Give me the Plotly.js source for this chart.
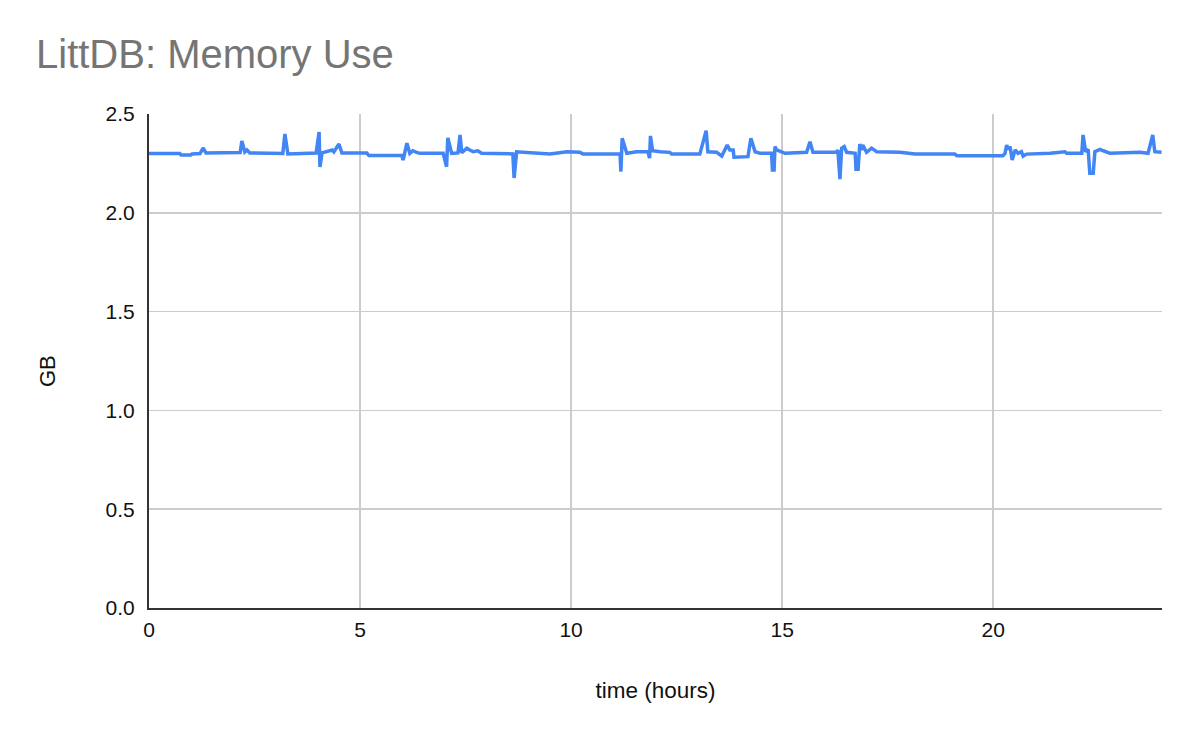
<!DOCTYPE html>
<html>
<head>
<meta charset="utf-8">
<script src="https://cdn.plot.ly/plotly-3.0.1.min.js"></script>
<style>html,body{margin:0;padding:0;background:#fff;}#chart{width:1200px;height:742px;}</style>
</head>
<body>
<div id="chart"></div>
<script>
const hours = [0,0.73,0.76,0.99,1.02,1.21,1.28,1.35,2.16,2.20,2.27,2.32,2.39,3.17,3.22,3.29,3.96,4.03,4.05,4.10,4.34,4.38,4.50,4.57,5.16,5.21,5.71,
5.99,6.02,6.11,6.18,6.25,6.34,6.42,6.97,7.05,7.08,7.17,7.32,7.37,7.41,7.53,7.60,7.68,7.79,7.88,8.62,8.65,8.71,9.03,9.50,9.90,10.21,10.28,10.84,
11.16,11.18,11.21,11.32,11.55,11.82,11.86,11.88,11.93,12.11,12.34,12.38,13.05,13.20,13.24,13.45,13.57,13.70,13.76,13.84,13.86,14.19,14.26,14.36,14.48,
14.75,14.77,14.81,14.83,14.87,15.07,15.58,15.66,15.73,16.29,16.32,16.37,16.41,16.47,16.53,16.73,16.75,16.80,16.84,16.88,16.91,17.00,17.12,17.24,17.79,
18.07,18.15,19.09,19.14,20.23,20.28,20.32,20.36,20.40,20.45,20.52,20.59,20.67,20.71,20.79,21.35,21.70,21.74,22.10,22.13,22.19,22.25,22.29,22.37,22.41,
22.53,22.61,22.77,23.48,23.67,23.78,23.83,23.99];
const memoryGB = [2.300,2.300,2.293,2.293,2.298,2.300,2.328,2.303,2.305,2.363,2.308,2.318,2.303,2.300,2.399,2.298,2.303,2.409,2.232,2.303,2.318,2.308,2.348,2.303,2.303,2.290,2.290,
2.290,2.267,2.352,2.301,2.314,2.306,2.301,2.301,2.233,2.379,2.301,2.303,2.394,2.304,2.327,2.318,2.309,2.314,2.301,2.298,2.176,2.309,2.306,2.298,2.309,2.306,2.297,2.297,
2.297,2.208,2.377,2.301,2.309,2.309,2.277,2.389,2.314,2.309,2.306,2.297,2.297,2.416,2.309,2.306,2.287,2.343,2.318,2.318,2.281,2.284,2.377,2.309,2.301,
2.301,2.217,2.217,2.335,2.318,2.301,2.306,2.360,2.306,2.306,2.318,2.170,2.327,2.335,2.306,2.301,2.220,2.220,2.348,2.318,2.343,2.306,2.327,2.309,2.306,
2.301,2.297,2.297,2.289,2.289,2.301,2.343,2.321,2.335,2.267,2.318,2.301,2.309,2.287,2.297,2.301,2.309,2.301,2.301,2.394,2.309,2.321,2.200,2.200,2.309,
2.321,2.314,2.301,2.306,2.301,2.394,2.309,2.306];
const xTicks = [0,5,10,15,20];
const yTicks = [0,0.5,1.0,1.5,2.0,2.5];

const trace = {
  x: hours, y: memoryGB, type: 'scatter', mode: 'lines',
  line: {color: '#4285F4', width: 3.5}, hoverinfo: 'x+y'
};
const layout = {
  width: 1200, height: 742,
  margin: {l: 149, r: 38, t: 114, b: 134},
  paper_bgcolor: '#fff', plot_bgcolor: '#fff',
  font: {family: 'Liberation Sans, Arial, sans-serif', size: 20, color: '#222'},
  title: {text: 'LittDB: Memory Use', x: 36/1200, xanchor: 'left', y: 1-54/742, yanchor: 'middle',
          font: {family: 'Liberation Sans, Arial, sans-serif', size: 40, color: '#757575'}},
  showlegend: false,
  xaxis: {
    range: [0, 24], tickvals: xTicks, ticktext: xTicks.map(String),
    showgrid: true, gridcolor: '#cccccc', gridwidth: 1.5,
    showline: true, linecolor: '#333', linewidth: 2, zeroline: false,
    ticks: '', ticklabelstandoff: 2, automargin: false,
    tickfont: {size: 21, color: '#111'},
    title: {text: 'time (hours)', font: {size: 22.5, color: '#111'}, standoff: 42}
  },
  yaxis: {
    range: [0, 2.5], tickvals: yTicks, ticktext: yTicks.map(v => v.toFixed(1)),
    showgrid: true, gridcolor: '#cccccc', gridwidth: 1.5,
    showline: true, linecolor: '#333', linewidth: 2, zeroline: false,
    ticks: '', ticklabelstandoff: 8, automargin: false,
    tickfont: {size: 21, color: '#111'}
  },
  annotations: [{
    text: 'GB', xref: 'paper', yref: 'paper', showarrow: false, textangle: -90,
    x: (47 - 149) / 1013, y: (608 - 371) / 494, xanchor: 'center', yanchor: 'middle',
    font: {size: 22, color: '#111'}
  }]
};
Plotly.newPlot('chart', [trace], layout, {displayModeBar: false, staticPlot: true});
</script>
</body>
</html>
